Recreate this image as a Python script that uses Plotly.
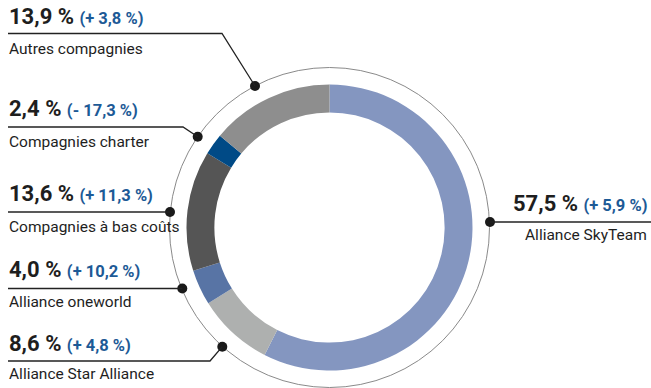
import plotly.graph_objects as go

# ---- data ----
labels = ["Alliance SkyTeam", "Alliance Star Alliance", "Alliance oneworld",
          "Compagnies à bas coûts", "Compagnies charter", "Autres compagnies"]
shares = [57.5, 8.6, 4.0, 13.6, 2.4, 13.9]
changes = ["+ 5,9 %", "+ 4,8 %", "+ 10,2 %", "+ 11,3 %", "- 17,3 %", "+ 3,8 %"]
colors = ["#8496C0", "#AEB0AF", "#5874A5", "#555555", "#004A86", "#8E8E8E"]

W, H = 651, 388
CX, CY, R_OUT, R_PIE = 329.5, 227.5, 160, 143

# label layout (pixel positions): side, value baseline, line y, label baseline, elbow x, dot
layout_spec = {
    "Alliance SkyTeam":       dict(side="R", yv=211.5, yl=222, yt=241.5, ex=None, dot=(490, 222)),
    "Alliance Star Alliance": dict(side="L", yv=351.5, yl=361, yt=380, ex=210, dot=(222.3, 346.7)),
    "Alliance oneworld":      dict(side="L", yv=278, yl=288.5, yt=308, ex=None, dot=(182.3, 288.5)),
    "Compagnies à bas coûts": dict(side="L", yv=201.5, yl=212, yt=233, ex=None, dot=(170, 212)),
    "Compagnies charter":     dict(side="L", yv=117, yl=127, yt=148, ex=183, dot=(197.7, 136.7)),
    "Autres compagnies":      dict(side="L", yv=25, yl=33.5, yt=55, ex=222, dot=(255, 86)),
}

FONT = "Roboto, 'Open Sans', Arial, sans-serif"
DARK = "#1E1E1E"
BLUE = "#1D5A96"
VSIZE, CSIZE, LSIZE = 22, 16.5, 15.5

fig = go.Figure()

fig.add_trace(go.Pie(
    values=shares, labels=labels, sort=False, direction="clockwise", rotation=0,
    hole=0.805, textinfo="none", hoverinfo="label+percent",
    marker=dict(colors=colors, line=dict(width=0)),
    domain=dict(x=[(CX - R_PIE) / W, (CX + R_PIE) / W],
                y=[(H - CY - R_PIE) / H, (H - CY + R_PIE) / H]),
    showlegend=False,
))

shapes = [dict(type="circle", xref="x", yref="y",
               x0=CX - R_OUT, x1=CX + R_OUT, y0=CY - R_OUT, y1=CY + R_OUT,
               line=dict(color="#8A8A8A", width=1), layer="below")]
annotations = []
dot_x, dot_y = [], []

for lab, v, ch in zip(labels, shares, changes):
    s = layout_spec[lab]
    vtxt = f"{v:.1f}".replace(".", ",") + " %"
    rich = (f"<b>{vtxt}</b> <span style='font-size:{CSIZE}px;color:{BLUE}'><b>({ch})</b></span>")
    dx, dy = s["dot"]
    if s["side"] == "L":
        x_text, anchor = 8, "left"
        pts = [(8, s["yl"])]
        if s["ex"] is not None:
            pts.append((s["ex"], s["yl"]))
        pts.append((dx, dy))
    else:
        x_text, anchor = 648, "right"
        pts = [(dx, dy), (W, s["yl"])]
    path = "M " + " L ".join(f"{px},{py}" for px, py in pts)
    shapes.append(dict(type="path", xref="x", yref="y", path=path,
                       line=dict(color="#222222", width=1.3)))
    dot_x.append(dx)
    dot_y.append(dy)
    annotations.append(dict(x=x_text, y=s["yv"] + 0.244 * VSIZE, xref="x", yref="y",
                            xanchor=anchor, yanchor="bottom", showarrow=False,
                            borderpad=0, text=rich,
                            font=dict(family=FONT, size=VSIZE, color=DARK)))
    annotations.append(dict(x=x_text, y=s["yt"] + 0.244 * LSIZE, xref="x", yref="y",
                            xanchor=anchor, yanchor="bottom", showarrow=False,
                            borderpad=0, text=lab,
                            font=dict(family=FONT, size=LSIZE, color=DARK)))

fig.add_trace(go.Scatter(x=dot_x, y=dot_y, mode="markers", hoverinfo="skip",
                         marker=dict(size=10, color="#1A1A1A"), showlegend=False))

fig.update_layout(
    width=W, height=H, margin=dict(l=0, r=0, t=0, b=0),
    paper_bgcolor="white", plot_bgcolor="rgba(0,0,0,0)",
    xaxis=dict(range=[0, W], visible=False, fixedrange=True, domain=[0, 1]),
    yaxis=dict(range=[H, 0], visible=False, fixedrange=True, domain=[0, 1]),
    shapes=shapes, annotations=annotations,
)

fig.write_html("out.html")
